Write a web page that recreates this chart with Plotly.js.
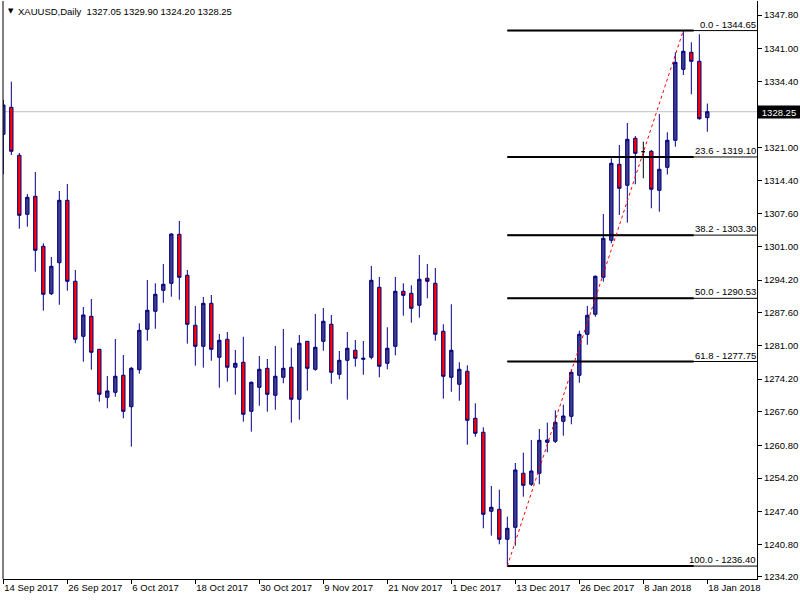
<!DOCTYPE html>
<html><head><meta charset="utf-8">
<script src="https://cdn.plot.ly/plotly-3.0.1.min.js"></script>
<style>html,body{margin:0;padding:0;background:#fff}#chart{width:800px;height:600px}</style>
</head><body><div id="chart"></div>
<script>
const symbol = "XAUUSD,Daily";
const dates = ["2017-09-14","2017-09-15","2017-09-18","2017-09-19","2017-09-20","2017-09-21","2017-09-22","2017-09-25","2017-09-26","2017-09-27","2017-09-28","2017-09-29","2017-10-02","2017-10-03","2017-10-04","2017-10-05","2017-10-06","2017-10-09","2017-10-10","2017-10-11","2017-10-12","2017-10-13","2017-10-16","2017-10-17","2017-10-18","2017-10-19","2017-10-20","2017-10-23","2017-10-24","2017-10-25","2017-10-26","2017-10-27","2017-10-30","2017-10-31","2017-11-01","2017-11-02","2017-11-03","2017-11-06","2017-11-07","2017-11-08","2017-11-09","2017-11-10","2017-11-13","2017-11-14","2017-11-15","2017-11-16","2017-11-17","2017-11-20","2017-11-21","2017-11-22","2017-11-23","2017-11-24","2017-11-27","2017-11-28","2017-11-29","2017-11-30","2017-12-01","2017-12-04","2017-12-05","2017-12-06","2017-12-07","2017-12-08","2017-12-11","2017-12-12","2017-12-13","2017-12-14","2017-12-15","2017-12-18","2017-12-19","2017-12-20","2017-12-21","2017-12-22","2017-12-26","2017-12-27","2017-12-28","2017-12-29","2018-01-02","2018-01-03","2018-01-04","2018-01-05","2018-01-08","2018-01-09","2018-01-10","2018-01-11","2018-01-12","2018-01-15","2018-01-16","2018-01-17","2018-01-18"];
const opens = [1323.69,1329.14,1319.44,1307.51,1311.15,1301.04,1291.46,1297.73,1310.34,1293.97,
1282.85,1286.89,1280.22,1270.52,1271.53,1274.97,1268.62,1276.10,1284.27,1287.91,
1292.15,1293.56,1303.47,1295.18,1285.08,1280.83,1289.52,1278.61,1282.25,1276.59,
1277.60,1267.69,1272.54,1276.38,1270.93,1274.56,1276.59,1270.12,1281.84,1276.18,
1281.84,1285.28,1275.17,1278.00,1280.02,1278.20,1278.61,1292.76,1277.39,1280.83,
1291.95,1291.54,1289.12,1294.58,1293.56,1283.86,1274.56,1273.15,1275.78,1266.28,
1263.45,1247.48,1247.88,1241.82,1244.24,1255.16,1252.94,1255.16,1261.43,1261.63,
1265.67,1266.68,1274.97,1283.26,1287.30,1294.78,1302.26,1317.62,1313.38,1322.88,
1320.17,1320.25,1312.36,1317.01,1322.47,1336.82,1340.26,1338.44,1327.05];
const highs = [1330.62,1334.32,1319.90,1311.62,1316.06,1301.65,1298.88,1312.22,1313.64,1296.25,
1288.78,1290.39,1280.30,1274.83,1282.31,1279.07,1276.65,1285.48,1294.23,1293.56,
1297.47,1303.67,1306.16,1296.25,1288.98,1290.80,1291.20,1283.32,1283.72,1280.08,
1282.77,1273.75,1278.87,1278.26,1280.89,1284.33,1280.55,1283.12,1281.90,1287.36,
1288.57,1287.16,1279.88,1283.72,1282.10,1281.90,1297.06,1294.84,1284.67,1294.84,
1293.56,1293.16,1299.29,1297.47,1296.66,1285.28,1289.32,1277.60,1276.99,1269.31,
1264.46,1252.59,1251.84,1246.39,1257.24,1259.32,1261.89,1264.11,1265.39,1267.89,
1269.03,1276.18,1283.98,1288.98,1295.18,1307.57,1318.83,1321.52,1325.97,1323.34,
1322.19,1320.51,1327.79,1324.09,1340.26,1344.65,1342.28,1343.90,1329.90];
const lows = [1315.60,1319.50,1304.60,1305.01,1295.91,1288.03,1291.20,1289.24,1292.07,1281.44,
1277.72,1276.10,1269.63,1268.30,1270.64,1266.28,1260.54,1275.29,1281.96,1284.39,
1289.64,1290.86,1290.25,1281.36,1276.91,1276.51,1277.92,1272.46,1273.68,1271.05,
1265.59,1263.57,1268.82,1267.61,1268.01,1273.35,1265.39,1265.99,1271.86,1275.90,
1279.94,1273.27,1274.16,1270.04,1276.71,1275.09,1278.20,1274.56,1276.18,1279.01,
1287.02,1285.60,1286.61,1290.53,1281.96,1270.24,1271.65,1269.83,1260.94,1262.56,
1244.04,1242.55,1240.81,1236.40,1240.52,1250.43,1252.59,1252.94,1259.40,1261.28,
1262.76,1265.06,1273.47,1281.15,1286.81,1293.89,1301.65,1307.37,1305.82,1313.58,
1314.79,1308.73,1308.04,1315.56,1321.18,1335.67,1331.77,1326.64,1324.20];
const closes = [1329.61,1320.25,1307.31,1310.95,1300.24,1291.34,1297.00,1310.34,1293.97,1282.25,
1287.16,1279.62,1271.13,1271.80,1274.77,1267.69,1276.38,1284.06,1288.11,1291.34,
1293.36,1303.53,1294.78,1285.28,1280.83,1289.52,1280.22,1282.04,1276.59,1277.39,
1267.09,1273.55,1276.18,1271.13,1274.77,1276.38,1270.12,1281.44,1276.38,1280.63,
1285.88,1275.58,1278.00,1280.43,1278.40,1278.40,1294.17,1276.79,1280.43,1291.95,
1291.14,1288.51,1294.37,1293.97,1283.26,1274.77,1280.02,1276.18,1265.87,1263.24,
1246.87,1248.29,1241.82,1244.04,1255.83,1252.73,1255.62,1261.83,1261.89,1265.47,
1266.74,1275.58,1283.26,1287.10,1294.98,1302.66,1317.82,1312.77,1322.67,1319.84,
1320.17,1312.57,1316.61,1322.47,1338.24,1340.46,1338.44,1326.84,1328.25];
const tickDates = ["2017-09-14","2017-09-26","2017-10-06","2017-10-18","2017-10-30","2017-11-09","2017-11-21","2017-12-01","2017-12-13","2017-12-26","2018-01-08","2018-01-18"];
const tickLabels = ["14 Sep 2017","26 Sep 2017","6 Oct 2017","18 Oct 2017","30 Oct 2017","9 Nov 2017","21 Nov 2017","1 Dec 2017","13 Dec 2017","26 Dec 2017","8 Jan 2018","18 Jan 2018"];
const priceTicks = [1347.80,1341.00,1334.40,1321.00,1314.40,1307.60,1301.00,1294.20,1287.60,1281.00,1274.20,1267.60,1260.80,1254.20,1247.40,1240.80,1234.20];
const fibRatios = ["0.0","23.6","38.2","50.0","61.8","100.0"];
const fibPrices = [1344.65,1319.10,1303.30,1290.53,1277.75,1236.40];
const fibLowDate = "2017-12-12";
const fibHighDate = "2018-01-15";

const FONT = '"Liberation Sans", Arial, sans-serif';
const NAVY = '#000080';
const BULL = '#3d3a8b';
const xRange = [-0.04, 94.21];

const mainIdx = [], dojiIdx = [];
opens.forEach((o, i) => (o === closes[i] ? dojiIdx : mainIdx).push(i));
const pick = (arr, idx) => idx.map(i => arr[i]);

const traces = [
  {
    type: 'candlestick',
    x: pick(dates, mainIdx), open: pick(opens, mainIdx), high: pick(highs, mainIdx),
    low: pick(lows, mainIdx), close: pick(closes, mainIdx),
    increasing: {line: {color: NAVY, width: 1}, fillcolor: BULL},
    decreasing: {line: {color: NAVY, width: 1}, fillcolor: '#ff0000'},
    whiskerwidth: 0, hoverinfo: 'skip', showlegend: false
  },
  {
    type: 'candlestick',
    x: pick(dates, dojiIdx), open: pick(opens, dojiIdx), high: pick(highs, dojiIdx),
    low: pick(lows, dojiIdx), close: pick(closes, dojiIdx),
    increasing: {line: {color: '#000', width: 1}, fillcolor: '#000'},
    decreasing: {line: {color: '#000', width: 1}, fillcolor: '#000'},
    whiskerwidth: 0, hoverinfo: 'skip', showlegend: false
  }
];

const iLow = dates.indexOf(fibLowDate);
const iHigh = dates.indexOf(fibHighDate);
const lastPrice = closes[closes.length - 1];
const shapes = [];
shapes.push({type: 'line', xref: 'paper', yref: 'paper', x0: 0, x1: 0, y0: 0, y1: 1, line: {color: '#000', width: 1}});
shapes.push({type: 'line', xref: 'paper', yref: 'y', x0: 0, x1: 1, y0: lastPrice, y1: lastPrice, line: {color: '#c0c0c0', width: 1}, layer: 'below'});
fibPrices.forEach(p => {
  shapes.push({type: 'line', xref: 'x', yref: 'y', x0: iLow, x1: xRange[1], y0: p, y1: p, line: {color: '#000', width: 1}});
  shapes.push({type: 'line', xref: 'x', yref: 'y', x0: iLow, x1: iHigh + 1.3, y0: p, y1: p, line: {color: '#000', width: 2}});
});
shapes.push({type: 'line', xref: 'x', yref: 'y', x0: iLow, x1: iHigh, y0: lows[iLow], y1: highs[iHigh], line: {color: '#ff0000', width: 1, dash: 'dot'}});

const annotations = [];
fibPrices.forEach((p, k) => {
  annotations.push({xref: 'paper', yref: 'y', x: 1, y: p, xanchor: 'right', yanchor: 'bottom', showarrow: false,
    text: fibRatios[k] + ' - ' + p.toFixed(2), font: {family: FONT, size: 9.5, color: '#000'}, borderpad: 0});
});
const last = opens.length - 1;
annotations.push({xref: 'paper', yref: 'paper', x: 0, y: 1, xanchor: 'left', yanchor: 'middle', xshift: 3, yshift: -10, showarrow: false,
  text: '▼', font: {family: '"DejaVu Sans", sans-serif', size: 7, color: '#000'}});
annotations.push({xref: 'paper', yref: 'paper', x: 0, y: 1, xanchor: 'left', yanchor: 'middle', xshift: 13, yshift: -10, showarrow: false,
  text: symbol + '&nbsp;&nbsp;' + [opens[last], highs[last], lows[last], closes[last]].map(v => v.toFixed(2)).join(' '),
  font: {family: FONT, size: 9.5, color: '#000'}});
annotations.push({xref: 'paper', yref: 'y', x: 1, y: lastPrice, xanchor: 'left', yanchor: 'middle', showarrow: false,
  text: lastPrice.toFixed(2), bgcolor: '#000', width: 42, height: 12, align: 'center', borderpad: 0,
  font: {family: FONT, size: 9.5, color: '#fff'}});

const layout = {
  width: 800, height: 600,
  margin: {l: 3, r: 43, t: 1, b: 21, pad: 0},
  paper_bgcolor: '#fff', plot_bgcolor: '#fff',
  showlegend: false, boxgap: 0.4,
  font: {family: FONT, size: 9.5, color: '#000'},
  xaxis: {
    type: 'category', categoryorder: 'array', categoryarray: dates,
    range: xRange, rangeslider: {visible: false}, showgrid: false, zeroline: false,
    showline: true, linecolor: '#000', linewidth: 1, ticks: 'outside', ticklen: 4, tickcolor: '#000',
    tickvals: tickDates, ticktext: tickLabels, ticklabelposition: 'outside right',
    tickfont: {family: FONT, size: 9.5, color: '#000'}, fixedrange: true
  },
  yaxis: {
    side: 'right', range: [1233.79, 1350.63], showgrid: false, zeroline: false,
    showline: true, linecolor: '#000', linewidth: 1, ticks: 'outside', ticklen: 4, tickcolor: '#000',
    tickvals: priceTicks, ticktext: priceTicks.map(v => v.toFixed(2)),
    tickfont: {family: FONT, size: 9.5, color: '#000'}, fixedrange: true
  },
  shapes: shapes, annotations: annotations
};
Plotly.newPlot('chart', traces, layout, {displayModeBar: false, staticPlot: true});
</script>
</body></html>
